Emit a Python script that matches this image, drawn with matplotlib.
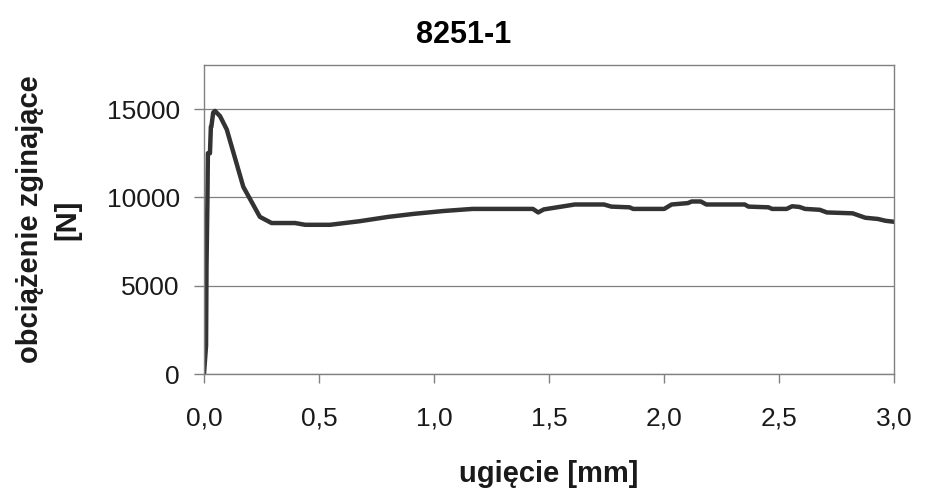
import matplotlib
matplotlib.use("Agg")
import matplotlib.pyplot as plt

title = "8251-1"
x_label = "ugięcie [mm]"
y_label = "obciążenie zginające\n[N]"

deflection = [0.0, 0.009, 0.011, 0.015, 0.017, 0.026, 0.030, 0.032, 0.040, 0.048, 0.070, 0.099,
              0.171, 0.243, 0.294, 0.396, 0.44, 0.548, 0.675, 0.802, 0.913, 1.040, 1.167,
              1.430, 1.453, 1.477, 1.612, 1.739, 1.771, 1.850, 1.866, 2.001, 2.033, 2.104,
              2.120, 2.160, 2.184, 2.351, 2.367, 2.454, 2.470, 2.533, 2.557, 2.589, 2.613,
              2.677, 2.708, 2.820, 2.875, 2.930, 2.962, 3.0]
force = [0, 1600, 6100, 9850, 12500, 12500, 14000, 14000, 14800, 14900, 14600, 13850,
         10600, 8900, 8550, 8550, 8450, 8450, 8650, 8900, 9070, 9230, 9350,
         9350, 9150, 9320, 9600, 9600, 9480, 9440, 9350, 9350, 9600, 9680,
         9770, 9770, 9600, 9600, 9480, 9440, 9350, 9350, 9500, 9460, 9350,
         9300, 9150, 9100, 8850, 8780, 8680, 8620]

x_ticks = [0.0, 0.5, 1.0, 1.5, 2.0, 2.5, 3.0]
x_tick_labels = ["0,0", "0,5", "1,0", "1,5", "2,0", "2,5", "3,0"]
y_ticks = [0, 5000, 10000, 15000]

plt.rcParams['font.family'] = ['Liberation Sans', 'DejaVu Sans']

fig = plt.figure(figsize=(9.28, 4.88), dpi=100)
ax = fig.add_axes([0.2198, 0.2336, 0.7436, 0.6332])
ax.plot(deflection, force, color="#333333", lw=3.2, solid_joinstyle="round",
        solid_capstyle="round")
ax.set_xlim(0, 3.0)
ax.set_ylim(0, 17500)
ax.set_xticks(x_ticks)
ax.set_xticklabels(x_tick_labels)
ax.set_yticks(y_ticks)
ax.grid(axis="y", color="#808080", lw=0.9)
ax.set_axisbelow(True)
for s in ax.spines.values():
    s.set_color("#808080")
    s.set_linewidth(1.0)
ax.tick_params(axis="x", labelsize=19, colors="#808080", labelcolor="#1a1a1a",
               length=6.5, width=1, pad=17)
ax.tick_params(axis="y", labelsize=19, colors="#808080", labelcolor="#1a1a1a",
               length=7.5, width=1, pad=10)

fig.text(0.5, 0.912, title, fontsize=22, fontweight="bold", ha="center", va="baseline")
fig.text(549 / 928, 0.0125, x_label, fontsize=21, fontweight="bold", ha="center", va="baseline",
         color="#1a1a1a")
fig.text(0.0523, 0.55, y_label, fontsize=21, fontweight="bold", ha="center", va="center",
         rotation=90, multialignment="center", linespacing=1.45, color="#1a1a1a")
fig.savefig("out.png", dpi=100)
